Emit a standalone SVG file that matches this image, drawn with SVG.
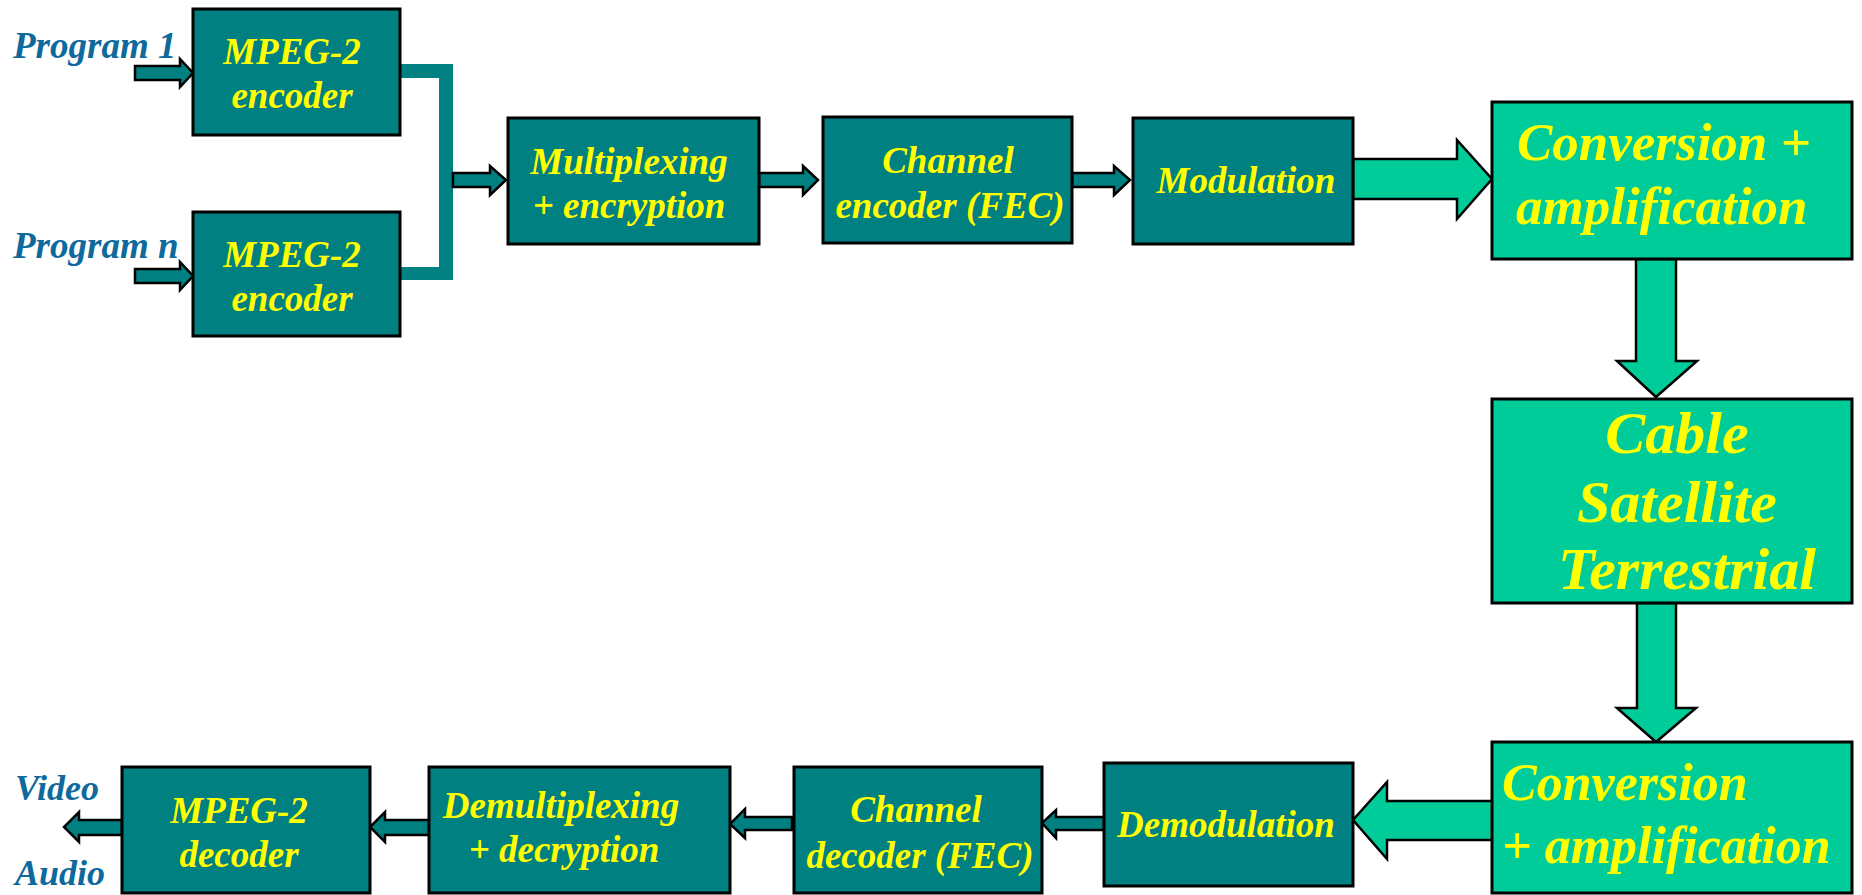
<svg xmlns="http://www.w3.org/2000/svg" width="1862" height="895" viewBox="0 0 1862 895">
<style>
.dk{fill:#008080;stroke:#000;stroke-width:3}
.lt{fill:#00CC99;stroke:#000;stroke-width:3}
.ar{fill:#008080;stroke:#000;stroke-width:2.5;stroke-linejoin:miter}
.big{fill:#00CC99;stroke:#000;stroke-width:2.5;stroke-linejoin:miter}
.t{font-family:"Liberation Serif","Times New Roman",serif;font-style:italic;font-weight:bold;fill:#FFFF00;font-size:37px;text-anchor:middle}
.lb{font-family:"Liberation Serif","Times New Roman",serif;font-style:italic;font-weight:bold;fill:#0E6A9C;font-size:37px}
</style>
<rect width="1862" height="895" fill="#fff"/>
<g id="connectors">
<polygon class="ar" points="135,66 180,66 180,59 193,73 180,87 180,80 135,80"/>
<polygon class="ar" points="135,269 180,269 180,262 193,276 180,290 180,283 135,283"/>
<polygon fill="#008080" points="400,64 453,64 453,280 400,280 400,267 439,267 439,78 400,78"/>
<polygon class="ar" points="453,173 490,173 490,166 506,180 490,195 490,187 453,187"/>
<polygon class="ar" points="759,173 803,173 803,166 818,180 803,195 803,187 759,187"/>
<polygon class="ar" points="1072,173 1114,173 1114,166 1130,180 1114,195 1114,187 1072,187"/>
<polygon class="big" points="1353,159 1457,159 1457,140 1492,179 1457,219 1457,199 1353,199"/>
<polygon class="big" points="1636,259 1676,259 1676,361 1697,361 1656,397 1617,361 1636,361"/>
<polygon class="big" points="1637,603 1676,603 1676,708 1696,708 1656,742 1617,708 1637,708"/>
<polygon class="big" points="1493,801 1387,801 1387,782 1353,820 1387,859 1387,840 1493,840"/>
<polygon class="ar" points="1104,817 1056,817 1056,810 1042,823 1056,838 1056,830 1104,830"/>
<polygon class="ar" points="792,817 745,817 745,809 730,824 745,838 745,830 792,830"/>
<polygon class="ar" points="429,820 385,820 385,812 370,827 385,842 385,835 429,835"/>
<polygon class="ar" points="122,820 79,820 79,812 64,827 79,842 79,835 122,835"/>
</g>
<g id="labels">
<text class="lb" x="13" y="58">Program 1</text>
<text class="lb" x="13" y="258">Program n</text>
<text class="lb" x="15" y="800" style="font-size:36px">Video</text>
<text class="lb" x="15" y="885" style="font-size:36px">Audio</text>
</g>
<g id="enc1"><rect class="dk" x="193" y="9" width="207" height="126"/><text class="t" x="292" y="64">MPEG-2</text><text class="t" x="292" y="108">encoder</text></g>
<g id="enc2"><rect class="dk" x="193" y="212" width="207" height="124"/><text class="t" x="292" y="267">MPEG-2</text><text class="t" x="292" y="311">encoder</text></g>
<g id="mux"><rect class="dk" x="508" y="118" width="251" height="126"/><text class="t" x="629" y="174">Multiplexing</text><text class="t" x="629" y="218">+ encryption</text></g>
<g id="chenc"><rect class="dk" x="823" y="117" width="249" height="126"/><text class="t" x="948" y="173">Channel</text><text class="t" x="950" y="218">encoder (FEC)</text></g>
<g id="mod"><rect class="dk" x="1133" y="118" width="220" height="126"/><text class="t" x="1246" y="193">Modulation</text></g>
<g id="conv1"><rect class="lt" x="1492" y="102" width="360" height="157"/><text class="t" x="1517" y="160" style="font-size:53px;text-anchor:start">Conversion +</text><text class="t" x="1516" y="224" style="font-size:53px;text-anchor:start">amplification</text></g>
<g id="medium"><rect class="lt" x="1492" y="399" width="360" height="204"/><text class="t" x="1677" y="453" style="font-size:60px">Cable</text><text class="t" x="1677" y="522" style="font-size:60px">Satellite</text><text class="t" x="1687" y="589" style="font-size:60px">Terrestrial</text></g>
<g id="conv2"><rect class="lt" x="1492" y="742" width="360" height="151"/><text class="t" x="1502" y="800" style="font-size:52px;text-anchor:start">Conversion</text><text class="t" x="1502" y="863" style="font-size:52px;text-anchor:start">+ amplification</text></g>
<g id="demod"><rect class="dk" x="1104" y="763" width="249" height="123"/><text class="t" x="1226" y="837">Demodulation</text></g>
<g id="chdec"><rect class="dk" x="794" y="767" width="248" height="126"/><text class="t" x="916" y="822">Channel</text><text class="t" x="920" y="868">decoder (FEC)</text></g>
<g id="demux"><rect class="dk" x="429" y="767" width="301" height="126"/><text class="t" x="561" y="818">Demultiplexing</text><text class="t" x="564" y="862">+ decryption</text></g>
<g id="dec"><rect class="dk" x="122" y="767" width="248" height="126"/><text class="t" x="239" y="823">MPEG-2</text><text class="t" x="239" y="867">decoder</text></g>
</svg>
